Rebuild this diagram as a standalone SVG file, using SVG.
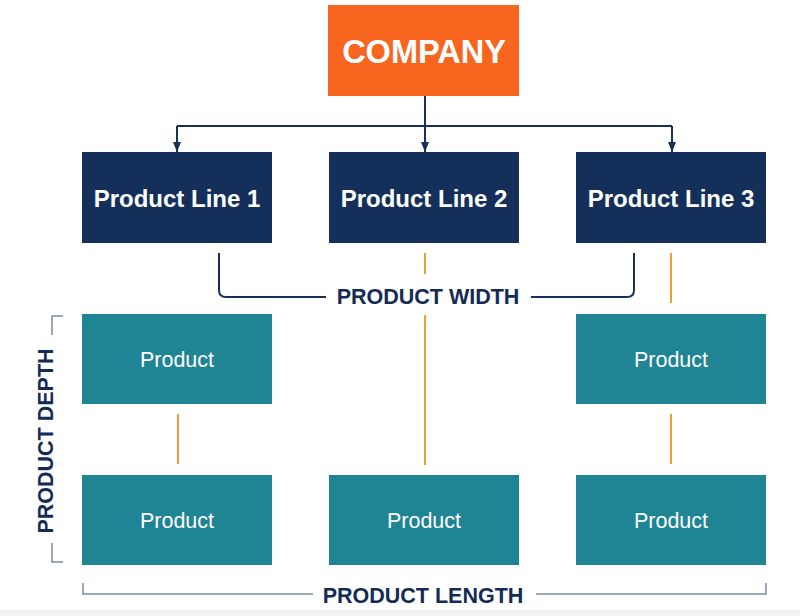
<svg xmlns="http://www.w3.org/2000/svg" width="800" height="616" viewBox="0 0 800 616">
<defs>
<style>
.navy{fill:#14305A}
.teal{fill:#1F8494}
.lbl{font-family:"Liberation Sans",Arial,sans-serif;font-weight:bold;fill:#ffffff;text-anchor:middle}
.prod{font-family:"Liberation Sans",Arial,sans-serif;font-size:21.5px;fill:#ffffff;text-anchor:middle}
.dim{font-family:"Liberation Sans",Arial,sans-serif;font-weight:bold;font-size:21.5px;fill:#132B55;text-anchor:middle}
.conn{stroke:#17305A;stroke-width:2;fill:none}
.org{stroke:#EBA036;stroke-width:2;fill:none}
.brk{stroke:#7F8AA3;stroke-width:1.5;fill:none}
.wbr{stroke:#17305A;stroke-width:2;fill:none}
</style>
<marker id="arr" viewBox="0 0 10 8" refX="10" refY="4" markerWidth="10" markerHeight="8" markerUnits="userSpaceOnUse" orient="auto">
<path d="M0,0 L10,4 L0,8 Z" fill="#17305A"/>
</marker>
</defs>
<rect width="800" height="616" fill="#ffffff"/>
<rect x="0" y="610" width="800" height="6" fill="#F3F3F3"/>

<g id="connectors">
<path class="conn" d="M425,96 V152" marker-end="url(#arr)"/>
<path class="conn" d="M177,126 H672"/>
<path class="conn" d="M177,126 V152" marker-end="url(#arr)"/>
<path class="conn" d="M672,126 V152" marker-end="url(#arr)"/>
<path class="org" d="M425,253 V274"/>
<path class="org" d="M425,315 V465"/>
<path class="org" d="M671,253 V303"/>
<path class="org" d="M178,414 V464"/>
<path class="org" d="M671,414 V464"/>
</g>

<g id="company">
<rect x="328" y="5" width="191" height="91" fill="#F8651F"/>
<text class="lbl" x="424" y="63" font-size="32.5">COMPANY</text>
</g>

<g id="line1">
<rect class="navy" x="82" y="152" width="190" height="91"/>
<text class="lbl" x="177" y="207" font-size="24">Product Line 1</text>
</g>
<g id="line2">
<rect class="navy" x="329" y="152" width="190" height="91"/>
<text class="lbl" x="424" y="207" font-size="24">Product Line 2</text>
</g>
<g id="line3">
<rect class="navy" x="576" y="152" width="190" height="91"/>
<text class="lbl" x="671" y="207" font-size="24">Product Line 3</text>
</g>

<g id="p1a">
<rect class="teal" x="82" y="314" width="190" height="90"/>
<text class="prod" x="177" y="367">Product</text>
</g>
<g id="p3a">
<rect class="teal" x="576" y="314" width="190" height="90"/>
<text class="prod" x="671" y="367">Product</text>
</g>
<g id="p1b">
<rect class="teal" x="82" y="475" width="190" height="90"/>
<text class="prod" x="177" y="528">Product</text>
</g>
<g id="p2b">
<rect class="teal" x="329" y="475" width="190" height="90"/>
<text class="prod" x="424" y="528">Product</text>
</g>
<g id="p3b">
<rect class="teal" x="576" y="475" width="190" height="90"/>
<text class="prod" x="671" y="528">Product</text>
</g>

<g id="width">
<path class="wbr" d="M219,253 V290 Q219,297 226,297 H326"/>
<path class="wbr" d="M531,297 H627 Q634,297 634,290 V253"/>
<text class="dim" x="428" y="304">PRODUCT WIDTH</text>
</g>

<g id="depth">
<path class="brk" d="M63,316 H52 V335"/>
<path class="brk" d="M52,543 V562 H63"/>
<text class="dim" transform="translate(53,441) rotate(-90)" x="0" y="0">PRODUCT DEPTH</text>
</g>

<g id="length">
<path class="brk" d="M83,583 V594 H313"/>
<path class="brk" d="M536,594 H766 V583"/>
<text class="dim" x="423" y="603">PRODUCT LENGTH</text>
</g>
</svg>
